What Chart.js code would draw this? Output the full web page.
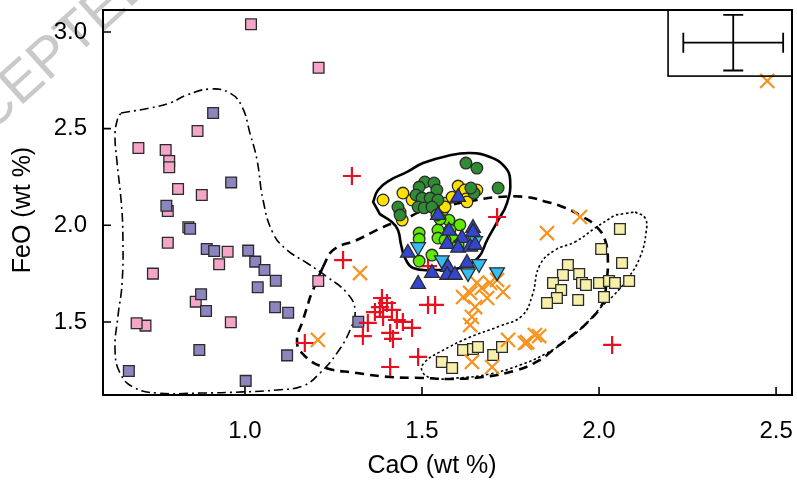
<!DOCTYPE html>
<html><head><meta charset="utf-8">
<script src="https://cdn.jsdelivr.net/npm/chart.js@4.4.0/dist/chart.umd.min.js"></script>
<style>html,body{margin:0;padding:0;background:#fff}#wrap{width:797px;height:481px}</style>
</head><body><div id="wrap"><canvas id="c" width="797" height="481"></canvas></div>
<script>
// ---- tick labels / ranges / titles ----
const xTicks = [1.0, 1.5, 2.0, 2.5];
const yTicks = [1.5, 2.0, 2.5, 3.0];
const xRange = [0.599, 2.545];
const yRange = [1.122, 3.114];
const xTitle = 'CaO (wt %)';
const yTitle = 'FeO (wt %)';

// ---- series (CaO, FeO wt %) ----
const pinkCaO = [1.017,1.208,0.866,0.699,0.776,0.786,0.786,0.811,0.878,0.782,0.840,0.782,0.951,0.927,0.740,1.207,0.861,0.719,0.694,0.960];
const pinkFeO = [3.040,2.815,2.488,2.400,2.390,2.333,2.300,2.188,2.157,2.074,1.990,1.910,1.863,1.798,1.750,1.712,1.605,1.481,1.493,1.498];
const purpleCaO = [0.910,0.961,0.778,0.845,0.892,0.913,1.009,1.029,1.055,1.087,1.036,0.876,0.890,1.085,1.122,0.871,1.119,0.672,1.002,1.320];
const purpleFeO = [2.581,2.222,2.101,1.982,1.877,1.867,1.869,1.812,1.769,1.713,1.679,1.643,1.557,1.576,1.548,1.355,1.327,1.246,1.195,1.501];
const paleCaO = [1.556,1.585,1.616,1.644,1.658,1.701,1.726,2.059,2.006,2.065,1.912,1.898,1.944,1.870,1.952,1.963,1.893,2.000,2.028,2.045,2.085,1.881,1.853,1.941,2.014];
const paleFeO = [1.293,1.262,1.355,1.360,1.370,1.329,1.370,1.981,1.877,1.805,1.795,1.743,1.748,1.702,1.702,1.691,1.665,1.702,1.712,1.702,1.712,1.624,1.598,1.614,1.629];
const redCaO = [1.302,1.712,1.277,1.387,1.381,1.401,1.415,1.367,1.390,1.429,1.446,1.472,1.347,1.333,1.410,1.418,1.517,1.537,1.489,1.410,1.169,2.037,1.517];
const redFeO = [2.255,2.043,1.820,1.624,1.577,1.598,1.562,1.551,1.526,1.510,1.500,1.469,1.495,1.427,1.443,1.412,1.588,1.588,1.319,1.267,1.391,1.381,1.789];
const orangeCaO = [1.325,1.206,2.475,1.946,1.853,1.831,1.791,1.655,1.636,1.669,1.692,1.712,1.729,1.684,1.650,1.641,1.636,1.743,1.797,1.819,1.641,1.698,1.616];
const orangeFeO = [1.753,1.407,2.747,2.043,1.960,1.427,1.391,1.702,1.650,1.676,1.702,1.717,1.655,1.624,1.577,1.526,1.484,1.407,1.396,1.432,1.293,1.267,1.629];
const yellowCaO = [1.390,1.446,1.438,1.472,1.565,1.559,1.602,1.621,1.655,1.585,1.624,1.565,1.627,1.444];
const yellowFeO = [2.131,2.167,2.069,2.131,2.115,2.079,2.203,2.183,2.183,2.146,2.136,2.095,2.121,2.027];
const dkGreenCaO = [1.624,1.655,1.715,1.508,1.534,1.492,1.542,1.483,1.500,1.523,1.545,1.489,1.506,1.528,1.432,1.438,1.647,1.638];
const dkGreenFeO = [2.322,2.296,2.193,2.224,2.219,2.198,2.183,2.157,2.141,2.141,2.131,2.095,2.090,2.095,2.095,2.053,2.167,2.193];
const ltGreenCaO = [1.492,1.492,1.545,1.576,1.607,1.579,1.545,1.585,1.528,1.492,1.602,1.551,1.565,1.542];
const ltGreenFeO = [1.960,1.929,1.976,2.027,2.002,1.976,1.934,1.934,1.846,1.815,1.898,2.033,1.924,2.053];
const blueCaO = [1.602,1.545,1.576,1.644,1.644,1.613,1.571,1.602,1.636,1.650,1.460,1.627,1.573,1.528,1.571,1.593,1.489];
const blueFeO = [2.146,2.053,1.971,1.986,1.965,1.934,1.903,1.883,1.888,1.898,1.857,1.805,1.784,1.753,1.743,1.743,1.696];
const cyanCaO = [1.489,1.650,1.556,1.661,1.630,1.712];
const cyanFeO = [1.888,1.919,1.820,1.800,1.753,1.758];

// ---- field outlines (closed curves) ----
const dashDotCaO = [0.650,0.732,0.788,0.836,0.901,0.958,0.992,1.014,1.034,1.051,1.079,1.119,1.175,1.232,1.288,1.311,1.297,1.260,1.212,1.164,1.090,0.994,0.873,0.751,0.684,0.647,0.633,0.641,0.653,0.655,0.650,0.638,0.633,0.641];
const dashDotFeO = [2.581,2.607,2.633,2.674,2.705,2.684,2.612,2.477,2.338,2.131,1.960,1.872,1.805,1.733,1.650,1.562,1.459,1.339,1.236,1.169,1.148,1.138,1.132,1.132,1.163,1.236,1.355,1.526,1.702,1.960,2.131,2.338,2.477,2.560];
const dashedCaO = [1.220,1.249,1.316,1.373,1.418,1.458,1.494,1.565,1.655,1.712,1.797,1.853,1.898,1.955,1.994,2.017,2.025,2.020,2.011,1.966,1.918,1.870,1.833,1.768,1.672,1.579,1.503,1.410,1.316,1.220,1.161,1.147,1.164,1.184];
const dashedFeO = [1.784,1.872,1.924,1.976,2.012,2.038,2.069,2.100,2.131,2.146,2.146,2.121,2.095,2.043,1.991,1.924,1.820,1.691,1.598,1.495,1.422,1.355,1.303,1.251,1.215,1.205,1.210,1.215,1.236,1.267,1.339,1.407,1.510,1.629];
const dottedCaO = [2.102,2.130,2.133,2.116,2.082,2.042,2.003,1.960,1.910,1.853,1.777,1.692,1.599,1.528,1.500,1.508,1.551,1.636,1.720,1.782,1.811,1.833,1.876,1.932,1.989,2.045];
const dottedFeO = [2.069,2.038,1.965,1.836,1.727,1.639,1.572,1.484,1.407,1.339,1.277,1.231,1.210,1.210,1.246,1.293,1.345,1.422,1.479,1.531,1.634,1.795,1.872,1.914,1.986,2.053];
const solidCaO = [1.362,1.376,1.410,1.458,1.503,1.571,1.636,1.692,1.734,1.749,1.740,1.712,1.684,1.658,1.607,1.537,1.475,1.452,1.441,1.432,1.415,1.381];
const solidFeO = [2.121,2.183,2.234,2.276,2.322,2.359,2.374,2.353,2.302,2.234,2.115,2.017,1.924,1.831,1.779,1.769,1.779,1.831,1.898,1.976,2.017,2.058];

// ---- analytical error bar (inset) ----
const errCenter = [2.379, 2.945];
const errHalf = [0.141, 0.144];
const errBoxCaO = [2.195, 2.545];
const errBoxFeO = [2.772, 3.114];

const pts = (xs, ys) => xs.map((x, i) => ({x, y: ys[i]}));
const EDGE = '#2b2b2b';
function markers(label, xs, ys, style, fill, r, order, extra) {
  return Object.assign({label, data: pts(xs, ys), showLine: false, pointStyle: style,
    pointRadius: r, pointBackgroundColor: fill, pointBorderColor: EDGE, pointBorderWidth: 1.3, order}, extra || {});
}
function outline(label, xs, ys, dash, w) {
  return {label, data: pts(xs, ys), showLine: true, closed: true, pointRadius: 0, borderColor: '#000',
    borderWidth: w, borderDash: dash, tension: 0.45, fill: false, order: 100};
}

const datasets = [
  outline('dashdot', dashDotCaO, dashDotFeO, [9, 4, 2, 4], 1.6),
  outline('dashed', dashedCaO, dashedFeO, [9, 6], 2.6),
  outline('dotted', dottedCaO, dottedFeO, [2.5, 2.5], 1.6),
  outline('solid', solidCaO, solidFeO, [], 2.6),
  markers('pink', pinkCaO, pinkFeO, 'rect', '#F4A5C8', 7.6, 30),
  markers('purple', purpleCaO, purpleFeO, 'rect', '#8C85C0', 7.6, 29),
  markers('pale', paleCaO, paleFeO, 'rect', '#F6F0AA', 7.6, 28),
  markers('red', redCaO, redFeO, 'cross', '#E8101E', 9, 27, {pointBorderColor: '#E8101E', pointBorderWidth: 2.2}),
  markers('orange', orangeCaO, orangeFeO, 'crossRot', '#F7931E', 10, 26, {pointBorderColor: '#F7931E', pointBorderWidth: 2.2}),
  markers('yellow', yellowCaO, yellowFeO, 'circle', '#FFE100', 5.8, 25),
  markers('dkgreen', dkGreenCaO, dkGreenFeO, 'circle', '#2F8C32', 5.8, 24),
  markers('ltgreen', ltGreenCaO, ltGreenFeO, 'circle', '#5DEB00', 5.8, 23),
  markers('cyan', cyanCaO, cyanFeO, 'triangle', '#35BDF0', 8.5, 22, {pointRotation: 180}),
  markers('blue', blueCaO, blueFeO, 'triangle', '#3346CF', 8.5, 21)
];

const FONT = "'Liberation Sans', Arial, Helvetica, sans-serif";

const framePlugin = {
  id: 'frame',
  beforeDraw(chart) {
    const ctx = chart.ctx;
    ctx.save();
    ctx.fillStyle = '#fff';
    ctx.fillRect(0, 0, chart.width, chart.height);
    // watermark
    ctx.translate(-68, 186);
    ctx.rotate(-42 * Math.PI / 180);
    ctx.font = '56px ' + FONT;
    ctx.fillStyle = '#c9c9c9';
    ctx.textBaseline = 'alphabetic';
    ctx.fillText('ACCEPTED MANUSCRIPT', 0, 0);
    ctx.restore();
  },
  beforeDatasetsDraw(chart) {
    chart.data.datasets.forEach((d, i) => {
      if (!d.closed) return;
      const el = chart.getDatasetMeta(i).dataset;
      if (el) { el._loop = true; el._fullLoop = true; el._pointsUpdated = false; delete el._segments; delete el._path; }
    });
  },
  afterDatasetsDraw(chart) {
    const ctx = chart.ctx, a = chart.chartArea, xs = chart.scales.x, ys = chart.scales.y;
    ctx.save();
    ctx.strokeStyle = '#000';
    // error bar box
    ctx.lineWidth = 1.6;
    const bx0 = xs.getPixelForValue(errBoxCaO[0]), bx1 = xs.getPixelForValue(errBoxCaO[1]);
    const by0 = ys.getPixelForValue(errBoxFeO[1]), by1 = ys.getPixelForValue(errBoxFeO[0]);
    ctx.strokeRect(bx0, by0, bx1 - bx0, by1 - by0);
    const cx = xs.getPixelForValue(errCenter[0]), cy = ys.getPixelForValue(errCenter[1]);
    const xl = xs.getPixelForValue(errCenter[0] - errHalf[0]), xr = xs.getPixelForValue(errCenter[0] + errHalf[0]);
    const yt = ys.getPixelForValue(errCenter[1] + errHalf[1]), yb = ys.getPixelForValue(errCenter[1] - errHalf[1]);
    ctx.lineWidth = 1.8;
    ctx.beginPath();
    ctx.moveTo(xl, cy); ctx.lineTo(xr, cy);
    ctx.moveTo(xl, cy - 10); ctx.lineTo(xl, cy + 10);
    ctx.moveTo(xr, cy - 10); ctx.lineTo(xr, cy + 10);
    ctx.moveTo(cx, yt); ctx.lineTo(cx, yb);
    ctx.moveTo(cx - 10, yt); ctx.lineTo(cx + 10, yt);
    ctx.moveTo(cx - 10, yb); ctx.lineTo(cx + 10, yb);
    ctx.stroke();
    // frame
    ctx.lineWidth = 2;
    ctx.strokeRect(a.left, a.top, a.right - a.left, a.bottom - a.top);
    // inward ticks
    ctx.lineWidth = 1.6;
    ctx.beginPath();
    xTicks.forEach(v => { const p = xs.getPixelForValue(v); ctx.moveTo(p, a.bottom); ctx.lineTo(p, a.bottom - 8); });
    yTicks.forEach(v => { const p = ys.getPixelForValue(v); ctx.moveTo(a.left, p); ctx.lineTo(a.left + 8, p); });
    ctx.stroke();
    // axis titles
    ctx.fillStyle = '#000';
    ctx.font = '25px ' + FONT;
    ctx.textAlign = 'center';
    ctx.textBaseline = 'middle';
    ctx.fillText(xTitle, 432, 466);
    ctx.translate(23, 210);
    ctx.rotate(-Math.PI / 2);
    ctx.fillText(yTitle, 0, 0);
    ctx.restore();
  }
};

new Chart(document.getElementById('c'), {
  type: 'scatter',
  data: {datasets},
  options: {
    responsive: false, animation: false, devicePixelRatio: 1,
    layout: {autoPadding: false, padding: {top: 10, right: 5, left: 0, bottom: 0}},
    plugins: {legend: {display: false}, tooltip: {enabled: false}},
    scales: {
      x: {
        type: 'linear', min: xRange[0], max: xRange[1],
        afterBuildTicks: s => { s.ticks = xTicks.map(v => ({value: v})); },
        afterFit: s => { s.height = 86; s.paddingLeft = 0; s.paddingRight = 0; },
        grid: {display: false, drawTicks: false}, border: {display: false},
        ticks: {padding: 22, color: '#000', font: {family: FONT, size: 24}, callback: v => Number(v).toFixed(1), maxRotation: 0, autoSkip: false},
        title: {display: false}
      },
      y: {
        type: 'linear', min: yRange[0], max: yRange[1],
        afterBuildTicks: s => { s.ticks = yTicks.map(v => ({value: v})); },
        afterFit: s => { s.width = 103; s.paddingTop = 0; s.paddingBottom = 0; },
        grid: {display: false, drawTicks: false}, border: {display: false},
        ticks: {padding: 16, color: '#000', font: {family: FONT, size: 24}, callback: v => Number(v).toFixed(1), autoSkip: false},
        title: {display: false}
      }
    }
  },
  plugins: [framePlugin]
});
</script>
</body></html>
